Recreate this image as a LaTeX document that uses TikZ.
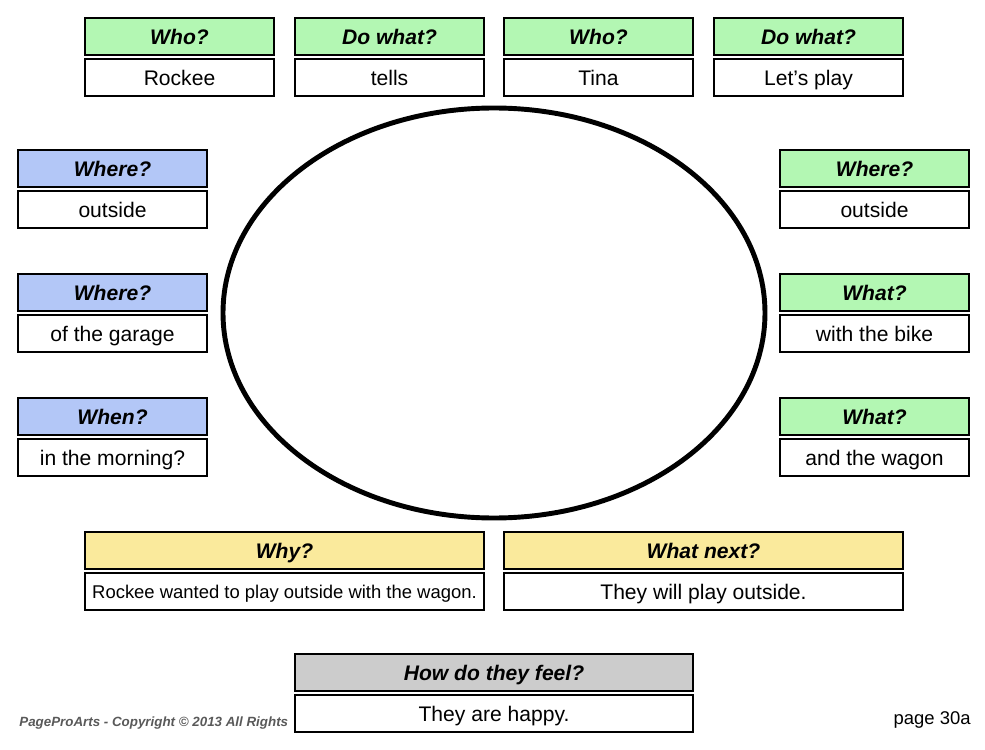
\documentclass[tikz,border=0pt]{standalone}
\usepackage{fontspec}
\setmainfont{Liberation Sans}
\definecolor{whogreen}{HTML}{B3F7B3}
\definecolor{whereblue}{HTML}{B3C7F7}
\definecolor{whyyellow}{HTML}{FAEA9C}
\definecolor{feelgray}{HTML}{CCCCCC}
\tikzset{
  qbox/.style={draw, rectangle, line width=0.8pt, minimum width=3.78cm, minimum height=0.74cm, inner sep=0pt, text height=8.6pt, text depth=0pt, font=\fontsize{12}{14}\selectfont\bfseries\itshape},
  abox/.style={draw, rectangle, line width=0.8pt, minimum width=3.78cm, minimum height=0.74cm, inner sep=0pt, text height=8.6pt, text depth=0pt, font=\fontsize{12}{14}\selectfont},
}
\begin{document}
\begin{tikzpicture}[x=0.02cm, y=-0.02cm]
\useasboundingbox (0,0) rectangle (985,750);
% top row
\node[qbox, fill=whogreen] (who1) at (179.5,36.5) {Who?};
\node[abox] (rockee) at (179.5,77.5) {Rockee};
\node[qbox, fill=whogreen] (do1) at (389.5,36.5) {Do what?};
\node[abox] (tells) at (389.5,77.5) {tells};
\node[qbox, fill=whogreen] (who2) at (598.5,36.5) {Who?};
\node[abox] (tina) at (598.5,77.5) {Tina};
\node[qbox, fill=whogreen] (do2) at (808.5,36.5) {Do what?};
\node[abox] (play) at (808.5,77.5) {Let’s play};
% left side
\node[qbox, fill=whereblue] (where1) at (112.5,168.5) {Where?};
\node[abox] (outside1) at (112.5,209.5) {outside};
\node[qbox, fill=whereblue] (where2) at (112.5,292.5) {Where?};
\node[abox] (garage) at (112.5,333.5) {of the garage};
\node[qbox, fill=whereblue] (when) at (112.5,416.5) {When?};
\node[abox] (morning) at (112.5,457.5) {in the morning?};
% right side
\node[qbox, fill=whogreen] (where3) at (874.5,168.5) {Where?};
\node[abox] (outside2) at (874.5,209.5) {outside};
\node[qbox, fill=whogreen] (what1) at (874.5,292.5) {What?};
\node[abox] (bike) at (874.5,333.5) {with the bike};
\node[qbox, fill=whogreen] (what2) at (874.5,416.5) {What?};
\node[abox] (wagon) at (874.5,457.5) {and the wagon};
% center
\draw[line width=2.8pt] (494,313) ellipse (271 and 205);
% bottom
\node[qbox, fill=whyyellow, minimum width=7.98cm] (why) at (284.5,550.5) {Why?};
\node[abox, minimum width=7.98cm, text height=7.5pt, font=\fontsize{10.5}{12}\selectfont] (reason) at (284.5,591.5) {Rockee wanted to play outside with the wagon.};
\node[qbox, fill=whyyellow, minimum width=7.98cm] (next) at (703.5,550.5) {What next?};
\node[abox, minimum width=7.98cm] (willplay) at (703.5,591.5) {They will play outside.};
\node[qbox, fill=feelgray, minimum width=7.96cm] (feel) at (494,672.5) {How do they feel?};
\node[abox, minimum width=7.96cm] (happy) at (494,713.5) {They are happy.};
% footer
\node[anchor=west, inner sep=0pt, text=black!65, font=\fontsize{7.6}{9}\selectfont\bfseries\itshape] (copy) at (19,723) {PageProArts - Copyright © 2013 All Rights};
\node[anchor=east, inner sep=0pt, font=\fontsize{10.5}{12}\selectfont] (page) at (971,720) {page 30a};
\end{tikzpicture}
\end{document}
